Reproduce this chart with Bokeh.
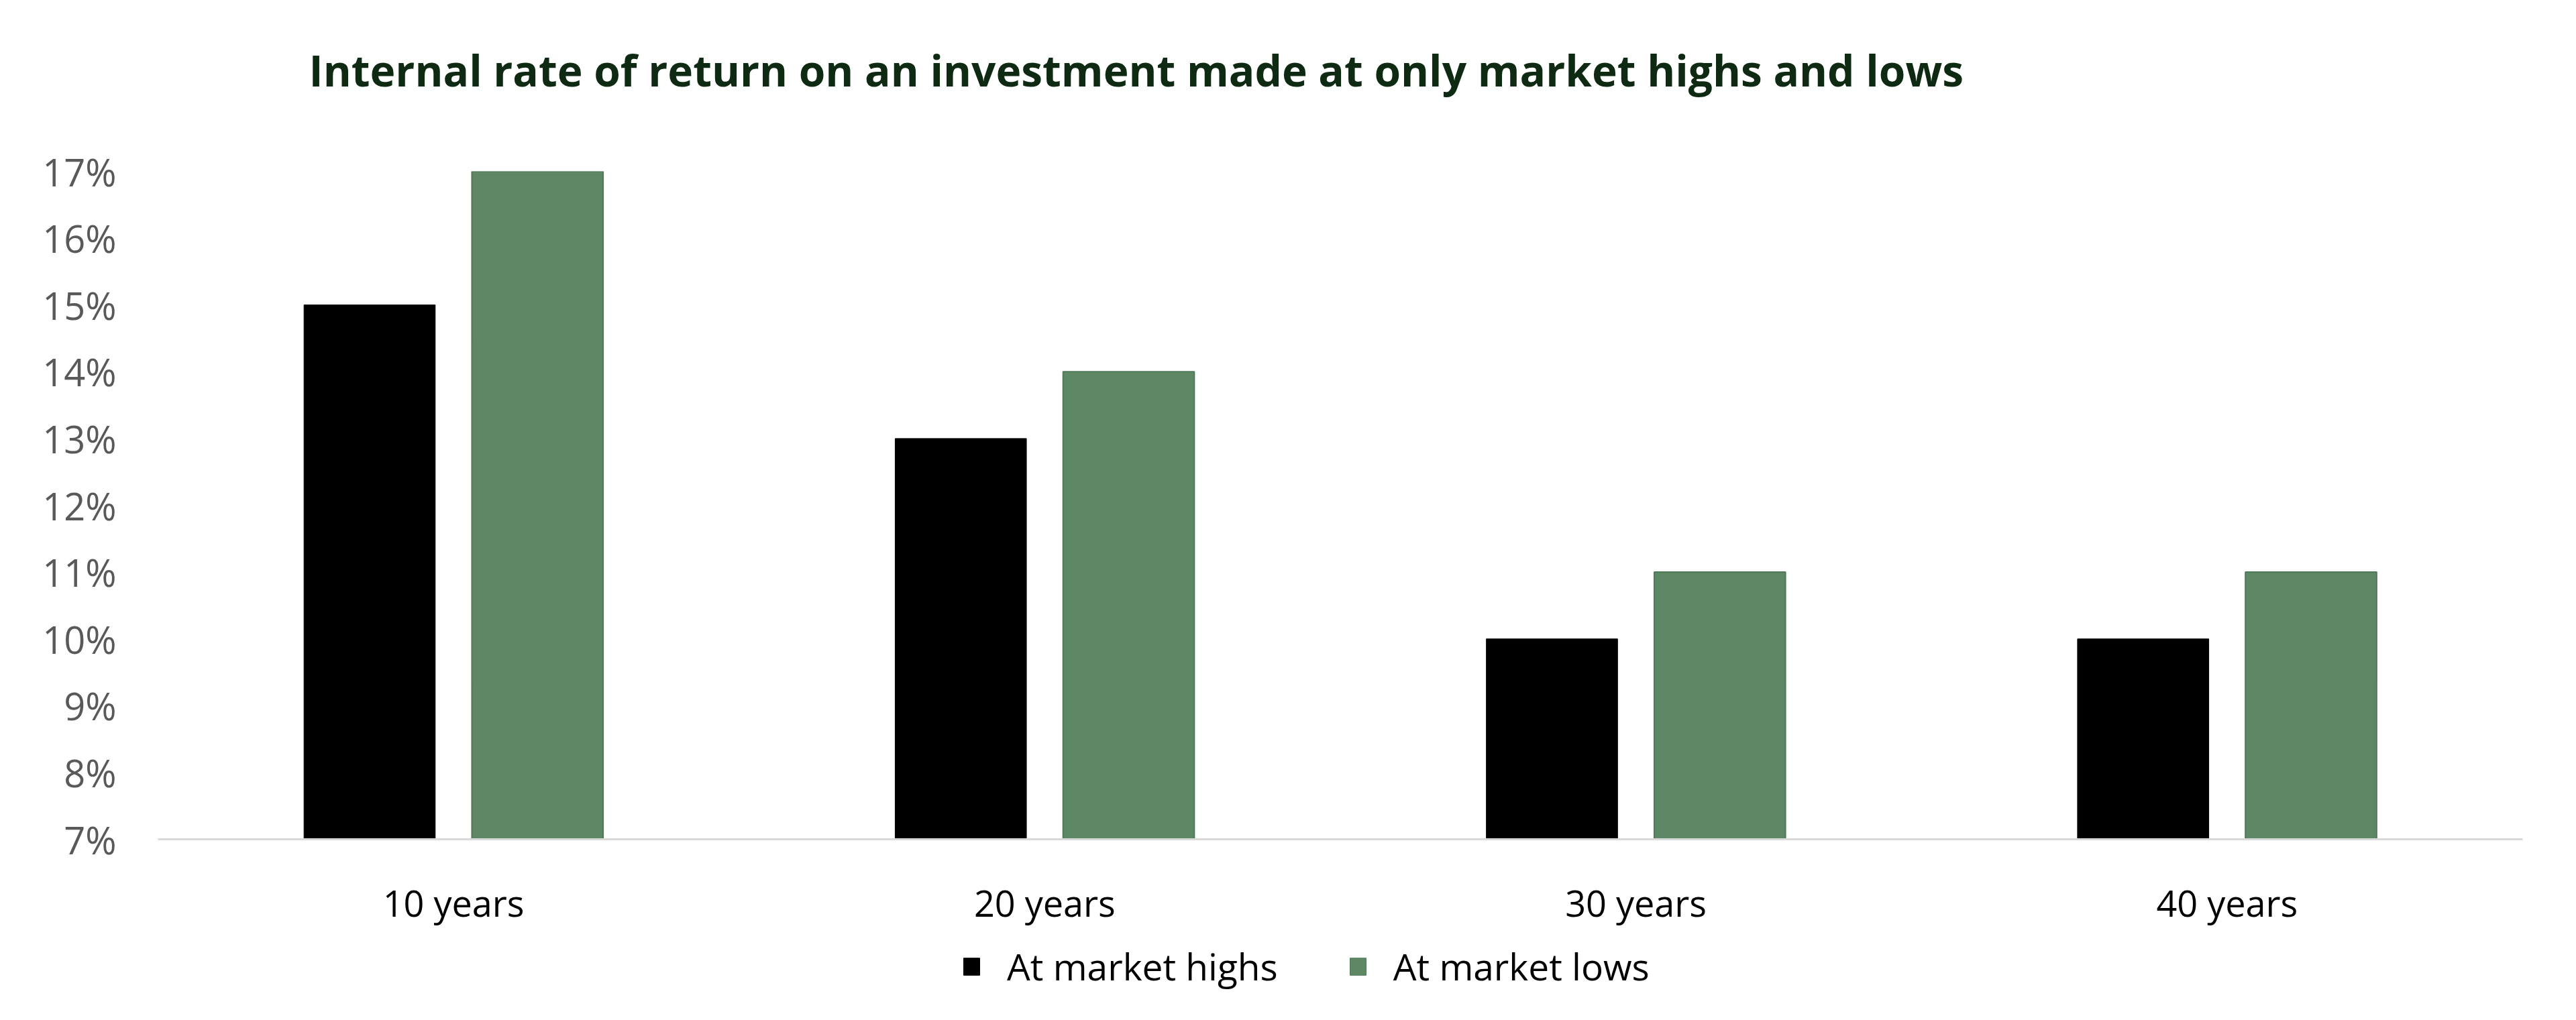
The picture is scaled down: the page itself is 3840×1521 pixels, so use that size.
from bokeh.plotting import figure
from bokeh.models import (ColumnDataSource, FixedTicker, PrintfTickFormatter, Label, Legend,
                          LegendItem, Range1d)
from bokeh.transform import dodge
from bokeh.layouts import column
from bokeh.embed import file_html
from bokeh.resources import INLINE

# ---- data ----
categories = ["10 years", "20 years", "30 years", "40 years"]
at_highs = [15, 13, 10, 10]
at_lows = [17, 14, 11, 11]
y_ticks = [7, 8, 9, 10, 11, 12, 13, 14, 15, 16, 17]
series_names = ["At market highs", "At market lows"]
title_text = "Internal rate of return on an investment made at only market highs and lows"

BLACK = "#000000"
GREEN = "#5e8766"
GREEN_EDGE = "#4f7a58"
FONT = "Open Sans"

source = ColumnDataSource(data=dict(cat=categories, highs=at_highs, lows=at_lows))

W = 3824
H0 = 200     # title strip
H1 = 1185    # chart
H2 = 120     # legend strip


def blank_strip(height):
    f = figure(width=W, height=height, output_backend="svg", toolbar_location=None,
               x_range=Range1d(0, 3525), y_range=Range1d(0, height),
               min_border_left=0, min_border_right=0, min_border_top=0, min_border_bottom=0)
    f.axis.visible = False
    f.grid.visible = False
    f.outline_line_color = None
    f.border_fill_color = "white"
    f.background_fill_color = "white"
    return f


# ---- title strip (frame aligned with the chart frame by the column layout) ----
p0 = blank_strip(H0)
p0.add_layout(Label(x=225, y=H0 - 104, text=title_text, text_font=FONT, text_font_style="bold",
                    text_font_size="64px", text_color="#0f2a12",
                    text_baseline="middle", text_align="left"))

# ---- chart ----
p = figure(
    x_range=categories,
    y_range=(7, 17),
    width=W,
    height=H1,
    output_backend="svg",
    toolbar_location=None,
    min_border_left=235,
    min_border_right=64,
    min_border_top=255 - H0,
    min_border_bottom=H0 + H1 - 1251,
)
p.outline_line_color = None
p.background_fill_color = "white"
p.border_fill_color = "white"
p.xgrid.grid_line_color = None
p.ygrid.grid_line_color = None

p.vbar(x=dodge("cat", -0.142, range=p.x_range), top="highs", bottom=7, width=0.222,
       source=source, fill_color=BLACK, line_color=BLACK, line_width=1)
p.vbar(x=dodge("cat", 0.142, range=p.x_range), top="lows", bottom=7, width=0.222,
       source=source, fill_color=GREEN, line_color=GREEN_EDGE, line_width=2)

xa = p.xaxis[0]
xa.axis_line_color = "#d9d9d9"
xa.axis_line_width = 3
xa.major_tick_line_color = None
xa.minor_tick_line_color = None
xa.major_label_text_font = FONT
xa.major_label_text_font_size = "54px"
xa.major_label_text_color = "#000000"
xa.major_label_standoff = 51

ya = p.yaxis[0]
ya.axis_line_color = None
ya.major_tick_line_color = None
ya.minor_tick_line_color = None
ya.ticker = FixedTicker(ticks=y_ticks)
ya.formatter = PrintfTickFormatter(format="%d%%")
ya.major_label_text_font = FONT
ya.major_label_text_font_size = "56px"
ya.major_label_text_color = "#595959"
ya.major_label_standoff = 56

# ---- legend strip ----
p2 = blank_strip(H2)
swatch = ColumnDataSource(data=dict(x=[-10], top=[-10]))
g1 = p2.vbar(x="x", top="top", bottom=-11, width=0.1, source=swatch, fill_color=BLACK, line_color=BLACK)
g2 = p2.vbar(x="x", top="top", bottom=-11, width=0.1, source=swatch, fill_color=GREEN, line_color=GREEN_EDGE)

legend = Legend(
    items=[LegendItem(label=series_names[0], renderers=[g1]),
           LegendItem(label=series_names[1], renderers=[g2])],
    orientation="horizontal",
    location=(1198, 27),
    glyph_width=30,
    glyph_height=32,
    label_standoff=38,
    spacing=104,
    padding=0,
    margin=0,
    border_line_color=None,
    background_fill_alpha=0,
    label_text_font=FONT,
    label_text_font_size="55px",
    label_text_color="#000000",
)
p2.add_layout(legend, "center")

open("out.html", "w").write(file_html(column(p0, p, p2, spacing=0), INLINE))
